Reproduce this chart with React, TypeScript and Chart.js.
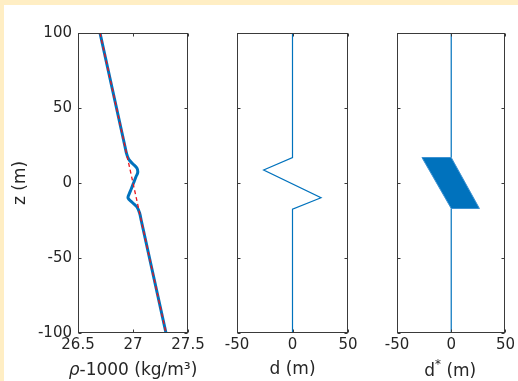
import React, { useEffect, useRef } from "react";
import { Chart, registerables } from "chart.js";
Chart.register(...registerables);

// ---- data ----
const zTicks = [-100, -50, 0, 50, 100];
const rhoTicks = [26.5, 27, 27.5];
const dTicks = [-50, 0, 50];

// panel 1: density profile (blue) and background linear profile (red dashed)
const rhoZ = [100, 50, 25, 20, 16, 13, 10, 7, 4, 0, -4, -7, -10, -13, -16, -20, -25, -50, -100];
const rhoVal = [26.70, 26.85, 26.925, 26.94, 26.96, 26.995, 27.035, 27.043, 27.026, 27.005, 26.984, 26.967, 26.955, 26.994, 27.036, 27.06, 27.075, 27.15, 27.30];
const rhoLinZ = [100, -100];
const rhoLinVal = [26.70, 27.30];

// panel 2: displacement d
const dZ = [100, 17, 8.7, -9.8, -17.5, -100];
const dVal = [0, 0, -26, 25.7, 0, 0];

// panel 3: d* (filled parallelogram + zero line outside)
const dsShapeZ = [17, 17, -17, -17, 17];
const dsShapeVal = [-27, 0, 26, 0, -27];
const dsUpperZ = [100, 17];
const dsUpperVal = [0, 0];
const dsLowerZ = [-17, -100];
const dsLowerVal = [0, 0];

const BLUE = "#0072BD";
const AX = "#3a3a3a";
const TXT = "#262626";
const FONT = "'DejaVu Sans', sans-serif";
const TICK_PX = 15;
const TITLE_PX = 17;

const pts = (xs: number[], ys: number[]) => xs.map((x, i) => ({ x, y: ys[i] }));

type Seg = { t: string; italic?: boolean; sup?: boolean };

const framePlugin = {
  id: "frame",
  afterDatasetsDraw(chart: any, _a: any, opts: any) {
    const { ctx, chartArea: a, scales } = chart;
    const xs = scales.x, ys = scales.y;
    ctx.save();
    ctx.strokeStyle = AX;
    ctx.lineWidth = 1;
    const L = Math.round(a.left) + 0.5, R = Math.round(a.right) - 0.5;
    const T = Math.round(a.top) + 0.5, B = Math.round(a.bottom) - 0.5;
    ctx.strokeRect(L, T, R - L, B - T);
    ctx.beginPath();
    for (const v of opts.xt as number[]) {
      const px = Math.round(xs.getPixelForValue(v)) + 0.5;
      ctx.moveTo(px, B); ctx.lineTo(px, B - 3);
      ctx.moveTo(px, T); ctx.lineTo(px, T + 3);
    }
    for (const v of zTicks) {
      const py = Math.round(ys.getPixelForValue(v)) + 0.5;
      ctx.moveTo(L, py); ctx.lineTo(L + 3, py);
      ctx.moveTo(R, py); ctx.lineTo(R - 3, py);
    }
    ctx.stroke();
    // x title (rich text)
    const segs: Seg[] = opts.title;
    const fontFor = (s: Seg) => `${s.italic ? "italic " : ""}${s.sup ? TITLE_PX * 0.7 : TITLE_PX}px ${FONT}`;
    let w = 0;
    for (const s of segs) { ctx.font = fontFor(s); w += ctx.measureText(s.t).width; }
    let x = (a.left + a.right) / 2 - w / 2 + (opts.dx || 0);
    ctx.fillStyle = TXT;
    ctx.textBaseline = "alphabetic";
    ctx.textAlign = "left";
    for (const s of segs) {
      ctx.font = fontFor(s);
      ctx.fillText(s.t, x, opts.baseY - (s.sup ? TITLE_PX * 0.45 : 0));
      x += ctx.measureText(s.t).width;
    }
    ctx.restore();
  },
};

function makeOptions(p: { left: number; right: number; xmin: number; xmax: number; xt: number[]; showY: boolean; title: Seg[]; baseY: number; dx?: number }) {
  return {
    responsive: false,
    animation: false,
    events: [],
    layout: { padding: { left: 0, right: 518 - p.right, top: 33, bottom: 0 } },
    plugins: {
      legend: { display: false },
      tooltip: { enabled: false },
      frame: { xt: p.xt, title: p.title, baseY: p.baseY, dx: p.dx },
    },
    scales: {
      x: {
        type: "linear",
        min: p.xmin,
        max: p.xmax,
        afterBuildTicks: (s: any) => { s.ticks = p.xt.map((v) => ({ value: v })); },
        afterFit: (s: any) => { s.height = 48; },
        grid: { display: false, drawTicks: false },
        border: { display: false },
        ticks: { padding: 3, color: TXT, font: { family: FONT, size: TICK_PX }, maxRotation: 0, autoSkip: false, callback: (v: any) => String(v) },
      },
      y: {
        type: "linear",
        min: -100,
        max: 100,
        afterBuildTicks: (s: any) => { s.ticks = zTicks.map((v) => ({ value: v })); },
        afterFit: (s: any) => { s.width = p.left; },
        grid: { display: false, drawTicks: false },
        border: { display: false },
        ticks: { display: p.showY, padding: 6, color: TXT, font: { family: FONT, size: TICK_PX }, autoSkip: false, callback: (v: any) => String(v) },
        title: { display: p.showY, text: "z (m)", color: TXT, font: { family: FONT, size: TITLE_PX }, padding: { top: 10, bottom: 0 } },
      },
    },
  };
}

function Panel({ config }: { config: any }) {
  const ref = useRef<HTMLCanvasElement>(null);
  useEffect(() => {
    const c = new Chart(ref.current as HTMLCanvasElement, config);
    return () => c.destroy();
  }, []);
  return (
    <canvas
      ref={ref}
      width={518}
      height={381}
      style={{ position: "absolute", left: 0, top: 0, width: 518, height: 381 }}
    />
  );
}

const line = (data: any[], color: string, width: number, extra: any = {}) => ({
  data,
  showLine: true,
  borderColor: color,
  backgroundColor: color,
  borderWidth: width,
  pointRadius: 0,
  tension: 0,
  fill: false,
  ...extra,
});

export default function App() {
  const c1 = {
    type: "scatter",
    data: {
      datasets: [
        line(pts(rhoLinVal, rhoLinZ), "#E8141C", 1.3, { borderDash: [4, 3], order: 0 }),
        line(pts(rhoVal, rhoZ), BLUE, 3, { tension: 0.35, order: 1 }),
      ],
    },
    options: makeOptions({ left: 78, right: 188, xmin: 26.5, xmax: 27.5, xt: rhoTicks, showY: true, title: [{ t: "ρ", italic: true }, { t: "-1000 (kg/m³)" }], baseY: 375 }),
    plugins: [framePlugin],
  };
  const c2 = {
    type: "scatter",
    data: { datasets: [line(pts(dVal, dZ), BLUE, 1.2)] },
    options: makeOptions({ left: 237, right: 348, xmin: -50, xmax: 50, xt: dTicks, showY: false, title: [{ t: "d (m)" }], baseY: 374 }),
    plugins: [framePlugin],
  };
  const c3 = {
    type: "scatter",
    data: {
      datasets: [
        line(pts(dsShapeVal, dsShapeZ), "#3d92d2", 1, { fill: "shape", backgroundColor: BLUE }),
        line(pts(dsUpperVal, dsUpperZ), BLUE, 1.2),
        line(pts(dsLowerVal, dsLowerZ), BLUE, 1.2),
      ],
    },
    options: makeOptions({ left: 397, right: 507, xmin: -50, xmax: 50, xt: dTicks, showY: false, title: [{ t: "d" }, { t: "*", sup: true }, { t: " (m)" }], baseY: 376, dx: -1 }),
    plugins: [framePlugin],
  };
  return (
    <div style={{ position: "fixed", left: 0, top: 0, width: 518, height: 381, background: "#FFEEC4", overflow: "hidden" }}>
      <div style={{ position: "absolute", left: 4, top: 5, right: 0, bottom: 0, background: "#FFFFFF" }} />
      <Panel config={c1} />
      <Panel config={c2} />
      <Panel config={c3} />
    </div>
  );
}
